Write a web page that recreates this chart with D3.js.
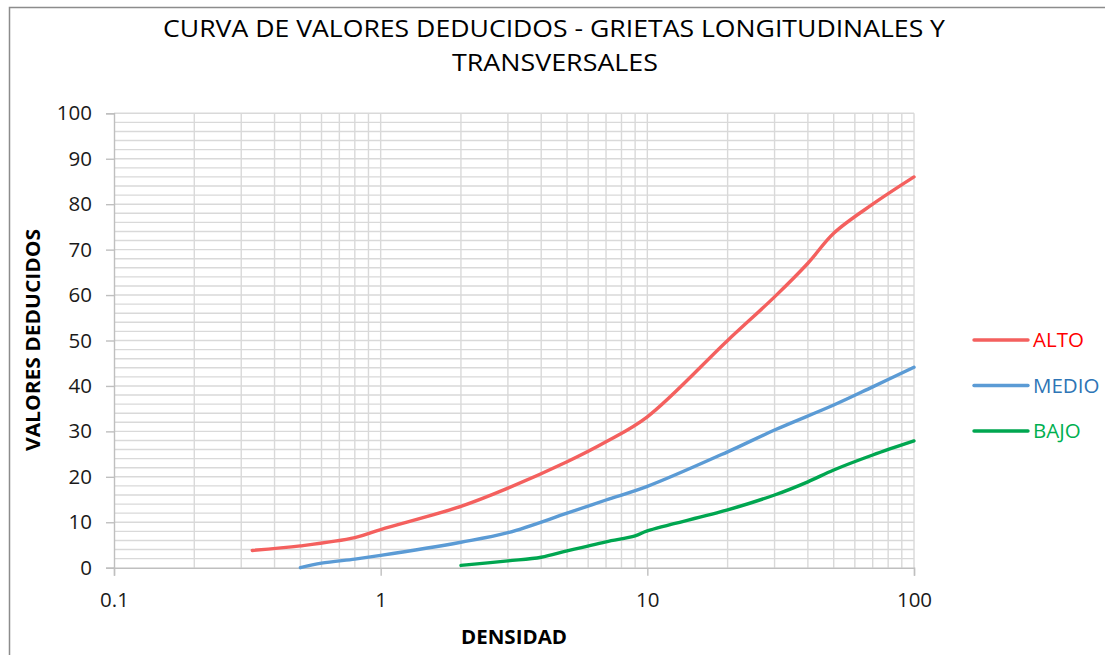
<!DOCTYPE html>
<html>
<head>
<meta charset="utf-8">
<script src="https://cdn.jsdelivr.net/npm/d3@7"></script>
<style>
  html, body { margin: 0; padding: 0; background: #fff; }
  svg { display: block; }
  text { font-family: "Open Sans", "Liberation Sans", sans-serif; }
</style>
</head>
<body>
<svg id="chart" width="1105" height="655"></svg>
<script>
// Deduct-value curves for longitudinal and transverse cracking
const titleLines = ["CURVA DE VALORES DEDUCIDOS - GRIETAS LONGITUDINALES Y", "TRANSVERSALES"];
const xTitle = "DENSIDAD";
const yTitle = "VALORES DEDUCIDOS";
const xTickValues = [0.1, 1, 10, 100];
const xTickLabels = ["0.1", "1", "10", "100"];
const yTickValues = [0, 10, 20, 30, 40, 50, 60, 70, 80, 90, 100];
const seriesNames = ["ALTO", "MEDIO", "BAJO"];
const seriesColors = ["#f4605e", "#5b9bd5", "#00a650"];
const labelColors = ["#ff0000", "#2e75b6", "#00b050"];

// density values and deduct values per severity
const altoX  = [0.33, 0.5, 0.8, 1, 2, 3, 5, 7, 10, 20, 30, 40, 50, 70, 100];
const altoY  = [3.8, 4.8, 6.6, 8.4, 13.5, 17.5, 23.3, 27.7, 33.2, 50, 59.6, 67, 73.6, 80, 86];
const medioX = [0.5, 0.6, 0.8, 1, 2, 3, 5, 7, 10, 20, 30, 50, 70, 100];
const medioY = [0, 1.0, 1.9, 2.7, 5.6, 7.7, 12.0, 14.9, 17.9, 25.5, 30.3, 35.8, 39.8, 44.1];
const bajoX  = [2, 3, 4, 5, 7, 9, 10, 20, 30, 40, 50, 70, 100];
const bajoY  = [0.5, 1.5, 2.3, 3.7, 5.7, 7.0, 8.1, 12.7, 16.0, 18.9, 21.5, 24.8, 27.9];

const seriesX = [altoX, medioX, bajoX];
const seriesY = [altoY, medioY, bajoY];

const svg = d3.select("#chart");
const W = 1105, H = 655;
const plotLeft = 114, plotRight = 914, plotTop = 113.3, plotBottom = 567.7;

// outer frame
svg.append("rect")
  .attr("x", 9.5).attr("y", 7.5)
  .attr("width", W + 20).attr("height", H + 20)
  .attr("fill", "#fff").attr("stroke", "#8c8c8c").attr("stroke-width", 1.5);

const x = d3.scaleLog().domain([0.1, 100]).range([plotLeft, plotRight]);
const y = d3.scaleLinear().domain([0, 100]).range([plotBottom, plotTop]);

// grid: minor log lines and every 2 units vertically
const grid = svg.append("g").attr("stroke", "#d9d9d9").attr("stroke-width", 1.4);
const xGrid = [];
for (let dec = 0.1; dec < 100; dec *= 10) {
  for (let k = 1; k <= 10; k++) xGrid.push(+(dec * k).toPrecision(3));
}
grid.selectAll("line.v").data(Array.from(new Set(xGrid)).filter(v => v > 0.1)).join("line")
  .attr("x1", d => x(d)).attr("x2", d => x(d))
  .attr("y1", plotTop).attr("y2", plotBottom);
grid.selectAll("line.h").data(d3.range(2, 101, 2)).join("line")
  .attr("x1", plotLeft).attr("x2", plotRight)
  .attr("y1", d => y(d)).attr("y2", d => y(d));

// y axis
const yAxis = svg.append("g")
  .attr("transform", `translate(${plotLeft},0)`)
  .call(d3.axisLeft(y).tickValues(yTickValues).tickSize(8).tickPadding(14));
yAxis.select(".domain").attr("stroke", "#bfbfbf").attr("stroke-width", 1.4);
yAxis.selectAll(".tick line").attr("stroke", "#bfbfbf").attr("stroke-width", 1.4);
yAxis.selectAll(".tick text")
  .attr("fill", "#1a1a1a")
  .style("font-size", "20.5px")
  .style("font-family", "'Open Sans', sans-serif");

// x axis
const xAxis = svg.append("g")
  .attr("transform", `translate(0,${plotBottom})`)
  .call(d3.axisBottom(x).tickValues(xTickValues)
    .tickFormat((d, i) => xTickLabels[i]).tickSize(8).tickPadding(17));
xAxis.select(".domain").attr("stroke", "#bfbfbf").attr("stroke-width", 1.4);
xAxis.selectAll(".tick line").attr("stroke", "#bfbfbf").attr("stroke-width", 1.4);
xAxis.selectAll(".tick text")
  .attr("fill", "#1a1a1a")
  .style("font-size", "20.5px")
  .style("font-family", "'Open Sans', sans-serif");

// curves
const line = d3.line()
  .x(d => x(d[0])).y(d => y(d[1]))
  .curve(d3.curveCatmullRom.alpha(0.5));
seriesNames.forEach((name, i) => {
  const pts = seriesX[i].map((v, j) => [v, seriesY[i][j]]);
  svg.append("path")
    .datum(pts)
    .attr("d", line)
    .attr("fill", "none")
    .attr("stroke", seriesColors[i])
    .attr("stroke-width", 3.4)
    .attr("stroke-linecap", "round")
    .attr("stroke-linejoin", "round");
});

// title
const titleWidths = [782, 206];
const titleCenters = [554, 555];
titleLines.forEach((t, i) => {
  svg.append("text")
    .attr("x", titleCenters[i]).attr("y", 37 + i * 34)
    .attr("text-anchor", "middle")
    .attr("fill", "#000")
    .attr("textLength", titleWidths[i])
    .attr("lengthAdjust", "spacingAndGlyphs")
    .style("font-size", "24px")
    .style("font-family", "'Open Sans', sans-serif")
    .text(t);
});

// axis titles
svg.append("text")
  .attr("x", 514).attr("y", 644)
  .attr("text-anchor", "middle")
  .attr("fill", "#000")
  .attr("textLength", 106)
  .attr("lengthAdjust", "spacingAndGlyphs")
  .style("font-size", "19px").style("font-weight", "bold")
  .style("font-family", "'Open Sans', sans-serif")
  .text(xTitle);
svg.append("text")
  .attr("transform", "translate(40,340) rotate(-90)")
  .attr("text-anchor", "middle")
  .attr("fill", "#000")
  .attr("textLength", 222)
  .attr("lengthAdjust", "spacingAndGlyphs")
  .style("font-size", "20px").style("font-weight", "bold")
  .style("font-family", "'Open Sans', sans-serif")
  .text(yTitle);

// legend
const legend = svg.append("g");
seriesNames.forEach((name, i) => {
  const cy = 340 + i * 45.5;
  legend.append("line")
    .attr("x1", 974).attr("x2", 1028)
    .attr("y1", cy).attr("y2", cy)
    .attr("stroke", seriesColors[i]).attr("stroke-width", 3.4)
    .attr("stroke-linecap", "round");
  legend.append("text")
    .attr("x", 1033).attr("y", cy + 7)
    .attr("fill", labelColors[i])
    .style("font-size", "20.5px")
    .style("font-family", "'Open Sans', sans-serif")
    .text(name);
});
</script>
</body>
</html>
